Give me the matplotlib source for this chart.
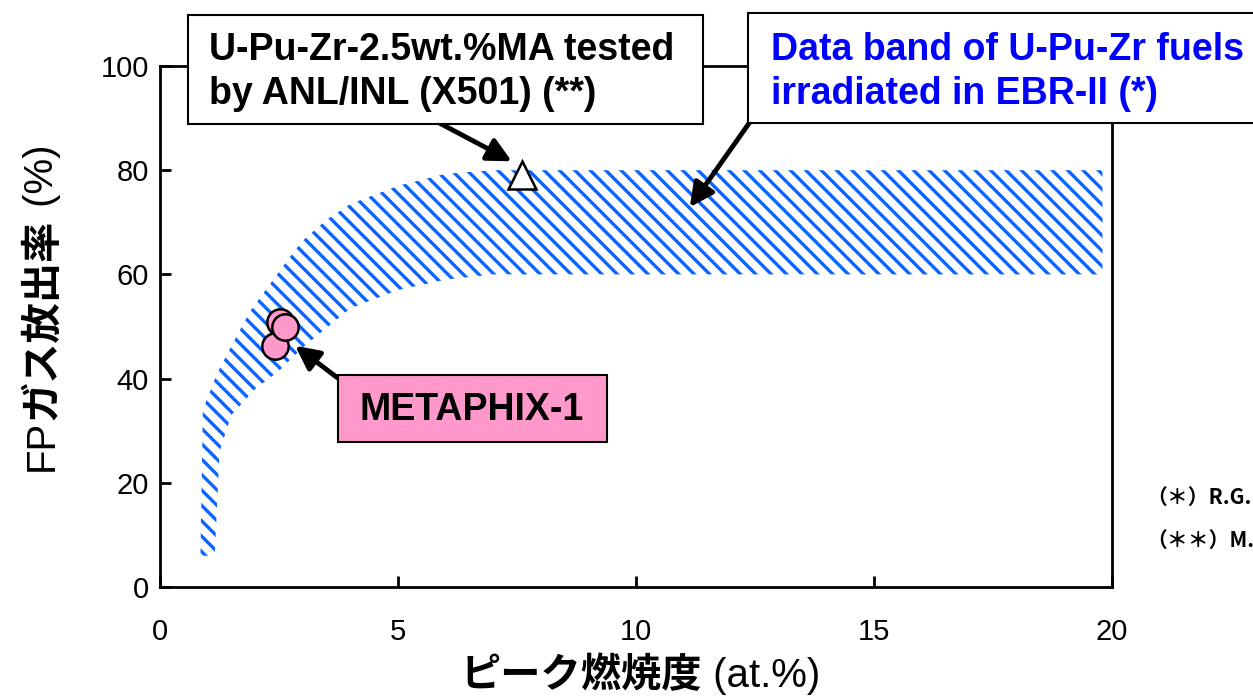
import matplotlib
matplotlib.use("Agg")
import matplotlib.pyplot as plt
from matplotlib.patches import Rectangle, Polygon
from matplotlib.collections import LineCollection
from matplotlib.transforms import IdentityTransform

plt.rcParams['font.family'] = ['Liberation Sans', 'Noto Sans CJK JP', 'DejaVu Sans']

# EBR-II U-Pu-Zr data band (upper and lower edges)
band_upper_x = [0.85, 0.9, 1.2, 1.6, 1.9, 2.3, 2.7, 3.0, 3.5, 4.0, 5.0, 6.0, 7.0, 8.0, 19.8]
band_upper_y = [6, 34, 41, 48, 53, 58, 63, 66.5, 70.5, 73.5, 77, 79.3, 80, 80, 80]
band_lower_x = [1.15, 1.25, 1.5, 2.0, 2.5, 3.0, 4.0, 5.0, 6.0, 7.0, 8.0, 19.8]
band_lower_y = [6, 26, 33, 38, 41.5, 46, 53.5, 57, 59, 60, 60, 60]

# METAPHIX-1 pins
metaphix_x = [2.42, 2.52, 2.63]
metaphix_y = [46.2, 50.8, 50.0]

# X501 (U-Pu-Zr-2.5wt.%MA)
x501_x = [7.6]
x501_y = [79.0]

W, H = 1253, 698
fig = plt.figure(figsize=(W / 100, H / 100), dpi=100)
ax = fig.add_axes([160 / W, 1 - 587 / H, (1112 - 160) / W, (587 - 66) / H])
ax.set_xlim(0, 20)
ax.set_ylim(0, 100)


def fx(px):
    return px / W


def fy(py):
    return 1 - py / H


# band outline (invisible) used as clip path for the diagonal stripes
poly_x = band_upper_x + band_lower_x[::-1]
poly_y = band_upper_y + band_lower_y[::-1]
band = Polygon(list(zip(poly_x, poly_y)), closed=True, facecolor='none', edgecolor='none')
ax.add_patch(band)

# stripes drawn in pixel space so spacing/angle stay fixed
bb = ax.bbox
h = bb.height
segs = []
p = bb.x0 - h
while p < bb.x1:
    segs.append([(p, bb.y1), (p + h, bb.y0)])
    p += 15.4
stripes = LineCollection(segs, colors='#0a64ff', linewidths=2.4, transform=IdentityTransform(), zorder=1)
stripes.set_clip_path(band)
ax.add_collection(stripes, autolim=False)

ax.plot(metaphix_x, metaphix_y, 'o', ms=19, mfc='#ff99cc', mec='k', mew=1.8, ls='none', zorder=3)
ax.plot(x501_x, x501_y, '^', ms=20, mfc='white', mec='k', mew=1.8, ls='none', zorder=3)

ax.set_xlim(0, 20)
ax.set_ylim(0, 100)
ax.set_xticks([0, 5, 10, 15, 20])
ax.set_yticks([0, 20, 40, 60, 80, 100])
ax.tick_params(direction='in', length=8, width=2, labelsize=21)
ax.tick_params(axis='x', pad=22)
ax.tick_params(axis='y', pad=8)
for sp in ax.spines.values():
    sp.set_linewidth(2)

# arrows
arrow = dict(arrowstyle='-|>', lw=3.5, mutation_scale=36, color='k', shrinkA=0, shrinkB=0)
ax.annotate('', xy=(7.39, 81.7), xytext=(5.84, 89.2), arrowprops=arrow, annotation_clip=False, zorder=4)
ax.annotate('', xy=(11.13, 72.9), xytext=(12.39, 89.2), arrowprops=arrow, annotation_clip=False, zorder=4)
ax.annotate('', xy=(2.84, 46.3), xytext=(3.78, 39.8), arrowprops=arrow, annotation_clip=False, zorder=4)

# label boxes
def box(x0, y0, x1, y1, fc):
    fig.patches.append(Rectangle((fx(x0), fy(y1)), fx(x1) - fx(x0), fy(y0) - fy(y1),
                                 transform=fig.transFigure, facecolor=fc, edgecolor='k',
                                 linewidth=1.5, zorder=5))

box(188, 15, 703, 124, 'white')
box(748, 13, 1265, 123, 'white')
box(338, 375, 607, 442, '#ff99cc')

bold = dict(fontsize=27, fontweight='bold', va='center', ha='left', zorder=6)
fig.text(fx(209), fy(50), 'U-Pu-Zr-2.5wt.%MA tested', color='k', **bold)
fig.text(fx(209), fy(94), 'by ANL/INL (X501) (**)', color='k', **bold)
fig.text(fx(771), fy(50), 'Data band of U-Pu-Zr fuels', color='#0000ff', **bold)
fig.text(fx(771), fy(94), 'irradiated in EBR-II (*)', color='#0000ff', **bold)
fig.text(fx(472), fy(410), 'METAPHIX-1', fontsize=27, fontweight='bold', ha='center', va='center', zorder=6)

# references on the right
note = dict(fontsize=15, fontweight='bold', family=['Noto Sans CJK JP', 'DejaVu Sans'], va='center', ha='left')
fig.text(fx(1146), fy(497), '（＊）R.G.', **note)
fig.text(fx(1146), fy(540), '（＊＊）M.K', **note)

# y label: regular / bold / regular pieces
t1 = fig.text(fx(42), fy(471), 'FP', fontsize=29, rotation=90, ha='center', va='bottom')
t2 = fig.text(0, 0, 'ガス放出率', fontsize=29, fontweight='bold', rotation=90, ha='center', va='bottom')
t3 = fig.text(0, 0, ' (%)', fontsize=29, rotation=90, ha='center', va='bottom')
fig.canvas.draw()
r = fig.canvas.get_renderer()
bb = t1.get_window_extent(r)
t2.set_position((fx(42), bb.y1 / H))
bb = t2.get_window_extent(r)
t3.set_position((fx(42), bb.y1 / H))

# x label
s1 = fig.text(fx(461), fy(676), 'ピーク燃焼度', fontsize=29, fontweight='bold', ha='left', va='center')
fig.canvas.draw()
bb = s1.get_window_extent(r)
fig.text(bb.x1 / W, fy(676), ' (at.%)', fontsize=29, ha='left', va='center')

fig.savefig('out.png', dpi=100)
